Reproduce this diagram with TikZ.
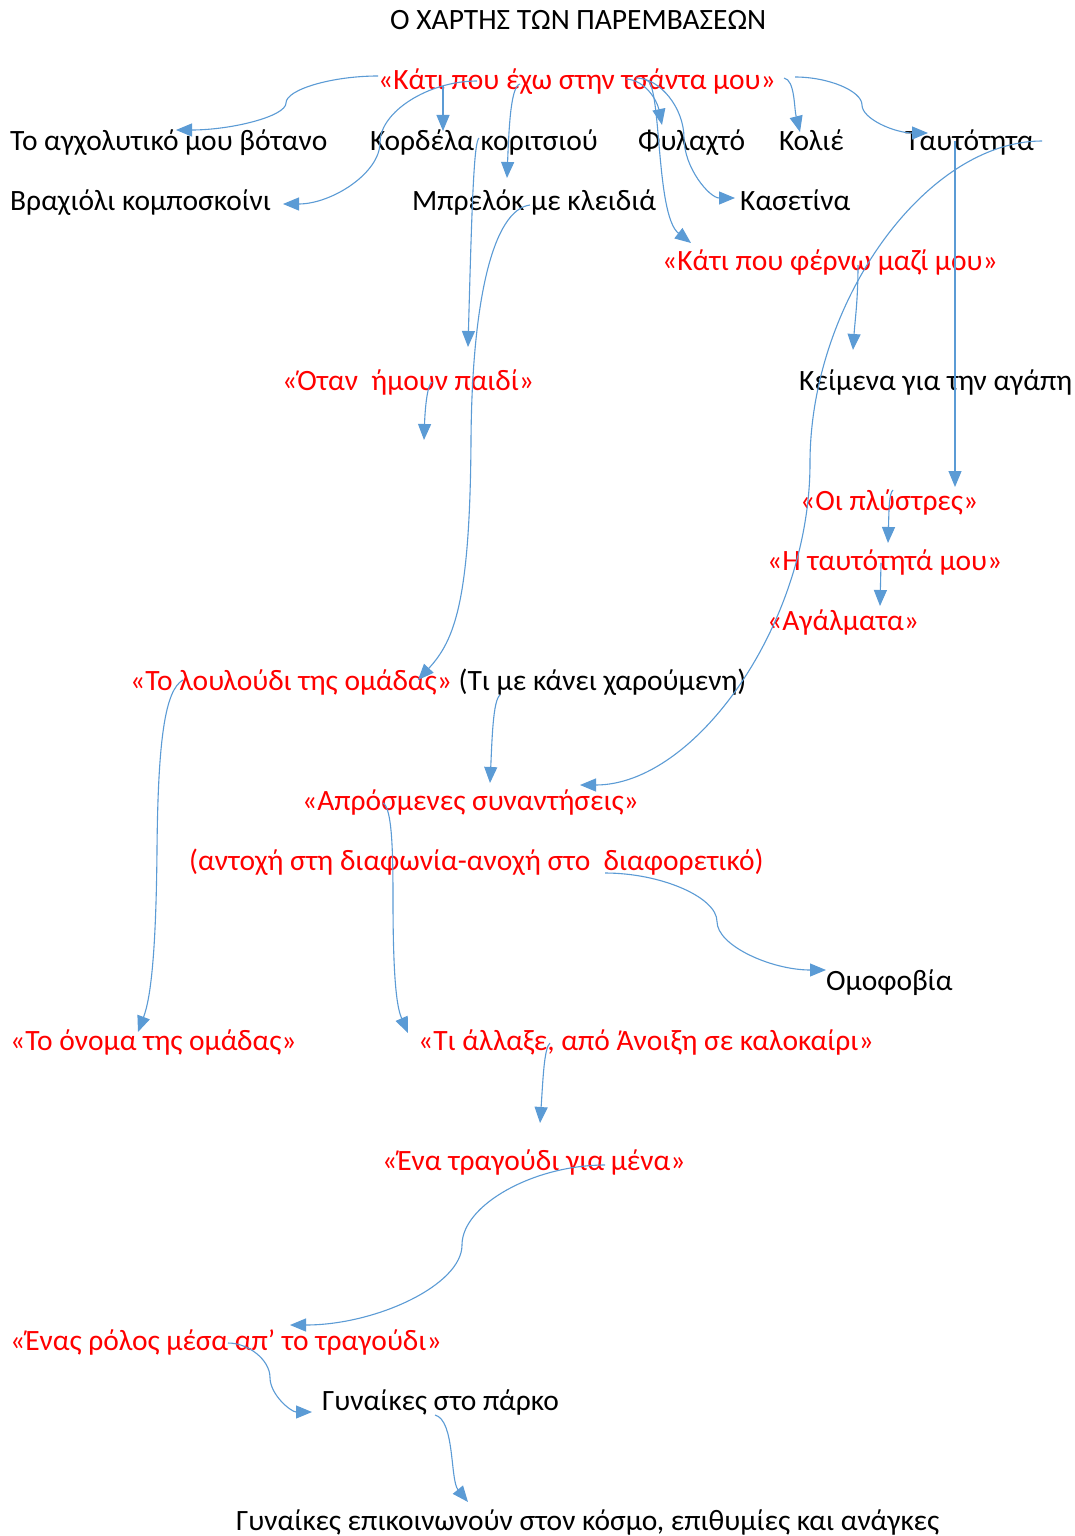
\documentclass[tikz,border=0pt]{standalone}
\usepackage{fontspec}
\setmainfont{Carlito}
\usetikzlibrary{arrows.meta,calc}
\definecolor{cblue}{HTML}{5B9BD5}
\definecolor{cred}{HTML}{FF0000}
% Office-like S connector: horizontal at both ends, vertical in the middle (x of #2)
\newcommand\hcon[3]{\draw[conn] let \p1=(#1),\p2=(#2),\p3=(#3) in (\p1) .. controls ({(\x1+\x2)/2},\y1) and (\x2,{\y1+(\y3-\y1)/4}) .. (\x2,{(\y1+\y3)/2}) .. controls (\x2,{\y1+3*(\y3-\y1)/4}) and ({(\x2+\x3)/2},\y3) .. (\p3);}
\begin{document}
\begin{tikzpicture}[x=1pt,y=-1pt,
  lbl/.style={anchor=base west,inner sep=0pt,font=\fontsize{29.5}{36}\selectfont},
  blk/.style={lbl,text=black},
  rd/.style={lbl,text=cred},
  conn/.style={draw=cblue,line width=1.1pt,-{Triangle[length=16pt,width=13pt]}}]
\useasboundingbox[fill=white] (0,0) rectangle (1075,1536);

% ---- texts ----
\node[blk] (title) at (390,30) {Ο ΧΑΡΤΗΣ ΤΩΝ ΠΑΡΕΜΒΑΣΕΩΝ};
\node[rd] (tsanta) at (378,90) {«Κάτι που έχω στην τσάντα μου»};
\node[blk] (votano) at (10,150) {Το αγχολυτικό μου βότανο};
\node[blk] (kordela) at (370,150) {Κορδέλα κοριτσιού};
\node[blk] (fylakto) at (638,150) {Φυλαχτό};
\node[blk] (kolie) at (779,150) {Κολιέ};
\node[blk] (taytot) at (905,150) {Ταυτότητα};
\node[blk] (vraxioli) at (10,210) {Βραχιόλι κομποσκοίνι};
\node[blk] (mprelok) at (412,210) {Μπρελόκ με κλειδιά};
\node[blk] (kasetina) at (740,210) {Κασετίνα};
\node[rd] (ferno) at (662,270) {«Κάτι που φέρνω μαζί μου»};
\node[rd] (paidi) at (282,390) {«Όταν\ \ ήμουν παιδί»};
\node[blk] (keimena) at (799,390) {Κείμενα για την αγάπη};
\node[rd] (plystres) at (800,510) {«Οι πλύστρες»};
\node[rd] (taytotmou) at (767,570) {«Η ταυτότητά μου»};
\node[rd] (agalmata) at (767,630) {«Αγάλματα»};
\node[blk] (louloudi) at (130,690) {\textcolor{cred}{«Το λουλούδι της ομάδας»} (Τι με κάνει χαρούμενη)};
\node[rd] (synant) at (302,810) {«Απρόσμενες συναντήσεις»};
\node[rd] (antoxi) at (189,870) {(αντοχή στη διαφωνία-ανοχή στο\ \ διαφορετικό)};
\node[blk] (omofovia) at (826,990) {Ομοφοβία};
\node[rd] (onoma) at (10,1050) {«Το όνομα της ομάδας»};
\node[rd] (allaxe) at (418,1050) {«Τι άλλαξε, από Άνοιξη σε καλοκαίρι»};
\node[rd] (tragoudi) at (382,1170) {«Ένα τραγούδι για μένα»};
\node[rd] (rolos) at (10,1350) {«Ένας ρόλος μέσα απ’ το τραγούδι»};
\node[blk] (parko) at (322,1410) {Γυναίκες στο πάρκο};
\node[blk] (epikoin) at (236,1530) {Γυναίκες επικοινωνούν στον κόσμο, επιθυμίες και ανάγκες};

% ---- connector end points ----
\coordinate (sA) at (378,76);  \coordinate (mA) at (286,0);  \coordinate (eA) at (176,130);
\coordinate (sB) at (477,81);  \coordinate (mB) at (380,0);  \coordinate (eB) at (283,204);
\coordinate (sC) at (443,86);  \coordinate (eC) at (443,131);
\coordinate (sD) at (520,84);  \coordinate (eD) at (507,178);
\coordinate (sE) at (626,79);  \coordinate (eE) at (662,125);
\coordinate (sF) at (646,80);  \coordinate (eF) at (691,243);
\coordinate (sK) at (636,78);  \coordinate (mK) at (684,0);  \coordinate (eK) at (735,198);
\coordinate (sL) at (784,78);  \coordinate (eL) at (800,132);
\coordinate (sG) at (795,77);  \coordinate (mG) at (862,0);  \coordinate (eG) at (928,133);
\coordinate (sH) at (1042,141);\coordinate (mH) at (810,0);  \coordinate (eH) at (580,785);
\coordinate (sI) at (955,141); \coordinate (eI) at (955,487);
\coordinate (sJ) at (858,265); \coordinate (eJ) at (853,350);
\coordinate (sP) at (432,382); \coordinate (eP) at (424,440);
\coordinate (sQ) at (479,138); \coordinate (eQ) at (468,347);
\coordinate (sM) at (530,205); \coordinate (eM) at (418,680);
\coordinate (sN) at (500,695); \coordinate (eN) at (490,783);
\coordinate (sO) at (383,803); \coordinate (eO) at (408,1033);
\coordinate (sR) at (605,873); \coordinate (mR) at (717,0);  \coordinate (eR) at (826,970);
\coordinate (sS) at (183,680); \coordinate (eS) at (138,1032);
\coordinate (sT) at (550,1043);\coordinate (eT) at (540,1123);
\coordinate (sU) at (605,1165);\coordinate (mU) at (462,0);  \coordinate (eU) at (290,1325);
\coordinate (sV) at (228,1343);\coordinate (mV) at (270,0);  \coordinate (eV) at (312,1412);
\coordinate (sW) at (435,1415);\coordinate (eW) at (468,1502);
\coordinate (sX) at (893,490); \coordinate (eX) at (888,543);
\coordinate (sY) at (881,563); \coordinate (eY) at (880,606);

% ---- connectors ----
\hcon{sA}{mA}{eA}
\hcon{sB}{mB}{eB}
\draw[conn] (sC) -- (eC);
\draw[conn] (sD) .. controls (511,86) and (509,125) .. (eD);
\draw[conn] (sE) .. controls (645,80) and (657,100) .. (eE);
\draw[conn] (sF) .. controls (662,80) and (655,215) .. (eF);
\hcon{sK}{mK}{eK}
\draw[conn] (sL) .. controls (795,80) and (794,108) .. (eL);
\hcon{sG}{mG}{eG}
\hcon{sH}{mH}{eH}
\draw[conn] (sI) -- (eI);
\draw[conn] (sJ) .. controls (858,300) and (855,320) .. (eJ);
\draw[conn] (sP) .. controls (427,385) and (425,410) .. (eP);
\draw[conn] (sQ) .. controls (474,142) and (472,200) .. (eQ);
\draw[conn] (sM) .. controls (493,210) and (472,300) .. (471,440) .. controls (470,600) and (455,640) .. (eM);
\draw[conn] (sN) .. controls (493,700) and (492,740) .. (eN);
\draw[conn] (sO) .. controls (392,808) and (393,850) .. (393,900) .. controls (393,990) and (398,1010) .. (eO);
\hcon{sR}{mR}{eR}
\draw[conn] (sS) .. controls (165,690) and (158,740) .. (157,850) .. controls (156,960) and (150,1000) .. (eS);
\draw[conn] (sT) .. controls (544,1048) and (543,1080) .. (eT);
\hcon{sU}{mU}{eU}
\hcon{sV}{mV}{eV}
\draw[conn] (sW) .. controls (455,1420) and (450,1480) .. (eW);
\draw[conn] (sX) .. controls (889,493) and (889,510) .. (eX);
\draw[conn] (sY) -- (eY);
\end{tikzpicture}
\end{document}
